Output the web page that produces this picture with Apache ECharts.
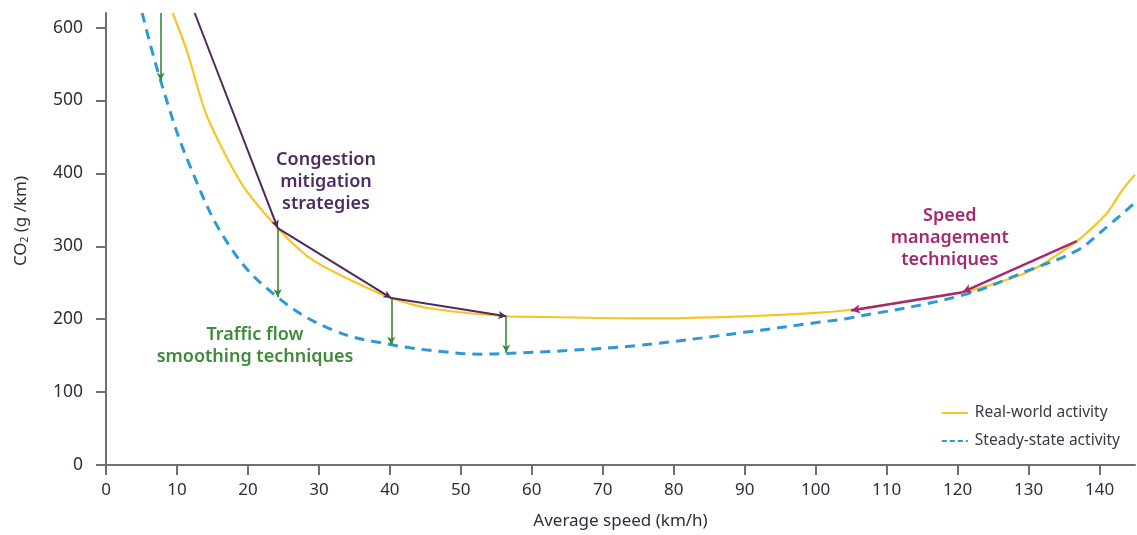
<!DOCTYPE html>
<html><head><meta charset="utf-8">
<script src="https://cdn.jsdelivr.net/npm/echarts@6/dist/echarts.min.js"></script>
<style>html,body{margin:0;padding:0;background:#fff}#c{width:1137px;height:535px}</style>
</head><body><div id="c"></div>
<script>
// ---- data ----
const xTicks = [0,10,20,30,40,50,60,70,80,90,100,110,120,130,140];
const yTicks = [0,100,200,300,400,500,600];
const realWorld = [[9.4,620],[11.4,568],[14.2,479],[19.1,386],[24.2,325],[28.3,287],[32.5,263],[40.2,229],[45.6,215],[56.4,204],[62.5,203],[75,201],[90,204],[100.6,209],[105,213],[120.7,237],[130,265],[136.8,307],[141,345],[143.2,377],[145,398]];
const steadyState = [[5.1,620],[7.7,527],[11.8,411],[17.5,299],[24.2,230],[32,185],[40.2,165],[48,155],[53,152],[56.4,153],[65,157],[75,164],[90,182],[100.6,196],[105,202],[120.7,233],[130,267],[136.8,294],[140,318],[145,360]];
const greenArrows = [[[7.7,620],[7.7,527]],[[24.2,325],[24.2,230]],[[40.2,229],[40.2,165]],[[56.4,204],[56.4,154]]];
const congestionPath = [[12.5,620],[24.2,325],[40.2,229],[56.4,204]];
const speedPath = [[136.8,307],[120.7,237],[105,212]];
const annotations = [
  {pos:[31,388], text:'Congestion\nmitigation\nstrategies', color:'#4d2c63'},
  {pos:[21,163], text:'Traffic flow\nsmoothing techniques', color:'#3e8b3a'},
  {pos:[118.9,311], text:'Speed\nmanagement\ntechniques', color:'#a32a72'}
];
const legendNames = ['Real-world activity','Steady-state activity'];

function segs(path){const out=[];for(let i=0;i<path.length-1;i++){out.push([{coord:path[i]},{coord:path[i+1]}]);}return out;}
const FONT = "'Noto Sans', 'Open Sans', sans-serif";

const chart = echarts.init(document.getElementById('c'), null, {renderer:'canvas'});
chart.setOption({
  animation:false,
  grid:{left:106,right:2,top:13,bottom:70},
  legend:{
    orient:'vertical', right:12, top:400, itemGap:12, itemWidth:26, itemHeight:14,
    itemStyle:{opacity:0},
    data:[
      {name:legendNames[0]},
      {name:legendNames[1], lineStyle:{type:[5,3]}}
    ],
    textStyle:{fontFamily:FONT,fontSize:15.5,color:'#3a3a4a',padding:[0,0,0,2]}
  },
  xAxis:{
    type:'value', min:0, max:145,
    name:'Average speed (km/h)', nameLocation:'middle', nameGap:48,
    nameTextStyle:{fontFamily:FONT,fontSize:17,color:'#2e2e3e'},
    axisLine:{lineStyle:{color:'#707070',width:2}},
    axisTick:{show:true,length:10,customValues:xTicks,lineStyle:{color:'#707070',width:2}},
    axisLabel:{customValues:xTicks,fontFamily:FONT,fontSize:17,color:'#2e2e3e',margin:17},
    splitLine:{show:false}
  },
  yAxis:{
    type:'value', min:0, max:620,
    name:'CO{s|2} (g /km)', nameLocation:'middle', nameGap:76, nameRotate:90,
    nameTextStyle:{fontFamily:FONT,fontSize:17,color:'#2e2e3e',padding:[0,0,0,36],
      rich:{s:{fontSize:10,fontFamily:FONT,color:'#2e2e3e',verticalAlign:'bottom',padding:[6,0,0,0]}}},
    axisLine:{show:true,lineStyle:{color:'#707070',width:2}},
    axisTick:{show:true,length:10,customValues:yTicks,lineStyle:{color:'#707070',width:2}},
    axisLabel:{customValues:yTicks,fontFamily:FONT,fontSize:17.5,color:'#2e2e3e',margin:23},
    splitLine:{show:false}
  },
  series:[
    {name:legendNames[0],type:'line',data:realWorld,symbol:'none',smooth:0.25,
     lineStyle:{color:'#f6c629',width:2.2},itemStyle:{color:'#f6c629'},z:3},
    {name:legendNames[1],type:'line',data:steadyState,symbol:'none',smooth:0.4,
     lineStyle:{color:'#2d9ad8',width:3,type:[10,7]},itemStyle:{color:'#2d9ad8'},z:3},
    {type:'line',data:[],symbol:'none',z:5,
     markLine:{silent:true,symbol:['none','arrow'],symbolSize:[6,8],label:{show:false},
       lineStyle:{color:'#3c8a3c',width:1.6,type:'solid'},
       data:greenArrows.map(a=>[{coord:a[0]},{coord:a[1]}])}},
    {type:'line',data:[],symbol:'none',z:6,
     markLine:{silent:true,symbol:['none','arrow'],symbolSize:[6,8],label:{show:false},
       lineStyle:{color:'#4e2a5c',width:2,type:'solid'},
       data:segs(congestionPath)}},
    {type:'line',data:[],symbol:'none',z:6,
     markLine:{silent:true,symbol:['none','arrow'],symbolSize:[7,9],label:{show:false},
       lineStyle:{color:'#a32a72',width:2.4,type:'solid'},
       data:segs(speedPath)}},
    {type:'scatter',data:annotations.map(a=>({value:a.pos,label:{color:a.color,formatter:a.text}})),
     symbolSize:0,silent:true,z:7,itemStyle:{opacity:1},
     label:{show:true,position:'inside',fontFamily:FONT,fontSize:18,fontWeight:600,lineHeight:22,align:'center',verticalAlign:'middle',opacity:1}}
  ]
});
</script></body></html>
